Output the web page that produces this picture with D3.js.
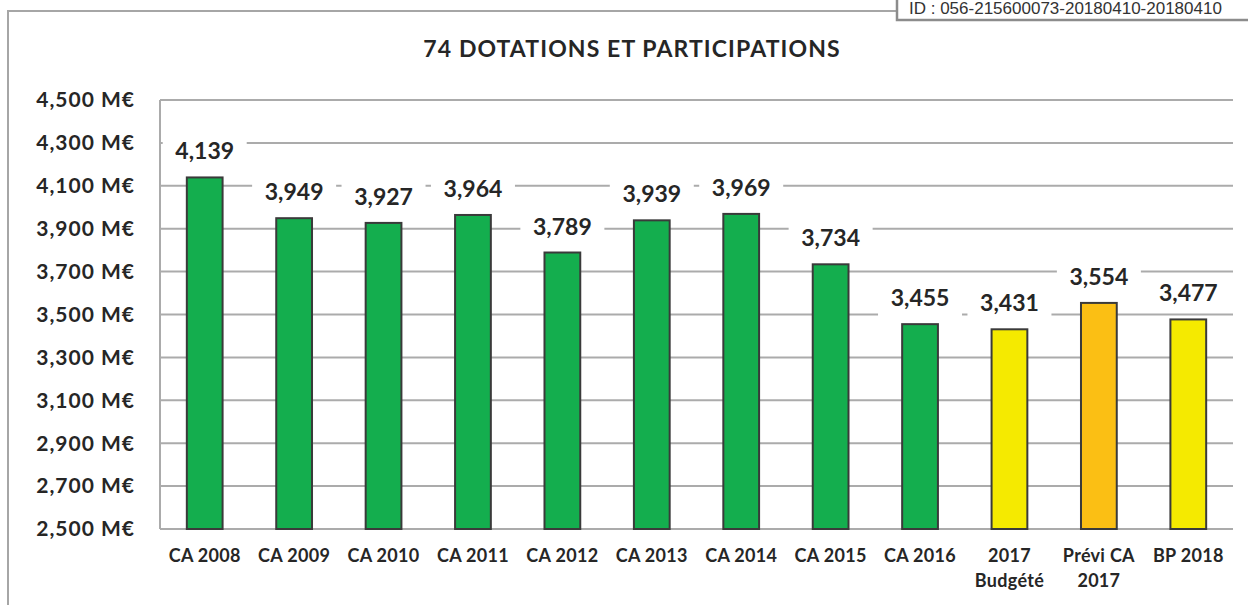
<!DOCTYPE html>
<html>
<head>
<meta charset="utf-8">
<script src="https://cdn.jsdelivr.net/npm/d3@7"></script>
<style>
  body { margin: 0; background: #fff; }
  svg { display: block; }
  text { font-family: Lato, "Open Sans", sans-serif; font-weight: bold; fill: #262626; }
</style>
</head>
<body>
<div class="chart"></div>
<script>
const width = 1248;
const height = 605;

// data
const categories = ["CA 2008", "CA 2009", "CA 2010", "CA 2011", "CA 2012", "CA 2013", "CA 2014", "CA 2015", "CA 2016", "2017\nBudgété", "Prévi CA\n2017", "BP 2018"];
const values = [4139, 3949, 3927, 3964, 3789, 3939, 3969, 3734, 3455, 3431, 3554, 3477];
const kinds = ["ca", "ca", "ca", "ca", "ca", "ca", "ca", "ca", "ca", "budget", "previ", "budget"];
const yTicks = [2500, 2700, 2900, 3100, 3300, 3500, 3700, 3900, 4100, 4300, 4500];
const title = "74 DOTATIONS ET PARTICIPATIONS";
const stamp = "ID : 056-215600073-20180410-20180410";

const colors = { ca: "#14ae4e", budget: "#f5ea00", previ: "#fbbf14" };

const margin = { top: 100, right: 15, bottom: 76, left: 160 };

let svg = d3.select(".chart")
    .append("svg")
    .attr("width", width)
    .attr("height", height);

// outer frame of the chart
svg.append("path")
    .attr("d", "M8,605 L8,11 L900,11")
    .attr("fill", "none")
    .attr("stroke", "#a6a6a6")
    .attr("stroke-width", 2);

// stamp box, top right
svg.append("rect")
    .attr("x", 897).attr("y", -10)
    .attr("width", 400).attr("height", 30)
    .attr("fill", "#fff")
    .attr("stroke", "#8c8c8c")
    .attr("stroke-width", 2.5);
svg.append("text")
    .attr("x", 909).attr("y", 14)
    .style("font-family", "'Liberation Sans', Arial, sans-serif")
    .style("font-weight", "normal")
    .style("font-size", "17px")
    .style("fill", "#333")
    .text(stamp);

svg.append("text")
    .attr("x", 632).attr("y", 57)
    .attr("text-anchor", "middle")
    .style("font-size", "23px")
    .style("letter-spacing", "1.1px")
    .text(title);

let x = d3.scaleBand()
    .domain(categories)
    .range([margin.left, width - margin.right])
    .paddingInner(0.6)
    .paddingOuter(0.3);

let y = d3.scaleLinear()
    .domain([2500, 4500])
    .range([height - margin.bottom, margin.top]);

// gridlines
svg.append("g")
    .selectAll("line")
    .data(yTicks)
    .enter()
    .append("line")
    .attr("x1", margin.left)
    .attr("x2", width - margin.right)
    .attr("y1", d => y(d))
    .attr("y2", d => y(d))
    .attr("stroke", "#ababab")
    .attr("stroke-width", 2);

svg.append("line")
    .attr("x1", margin.left).attr("x2", margin.left)
    .attr("y1", y(4500)).attr("y2", y(2500))
    .attr("stroke", "#ababab")
    .attr("stroke-width", 2);

// y labels
svg.append("g")
    .selectAll("text")
    .data(yTicks)
    .enter()
    .append("text")
    .attr("x", 135)
    .attr("y", d => y(d))
    .attr("dy", "0.35em")
    .attr("text-anchor", "end")
    .style("font-size", "21px")
    .style("letter-spacing", "1px")
    .text(d => d3.format(",")(d) + " M€");

let rows = categories.map((c, i) => ({ cat: c, value: values[i], kind: kinds[i] }));

svg.append("g")
    .selectAll("rect")
    .data(rows)
    .enter()
    .append("rect")
    .attr("x", d => x(d.cat))
    .attr("y", d => y(d.value))
    .attr("width", x.bandwidth())
    .attr("height", d => y(2500) - y(d.value))
    .attr("fill", d => colors[d.kind])
    .attr("stroke", "#3a3a3a")
    .attr("stroke-width", 2);

// value labels on white boxes, covering the gridlines
let labels = svg.append("g")
    .selectAll("g")
    .data(rows)
    .enter()
    .append("g")
    .attr("transform", d => `translate(${x(d.cat) + x.bandwidth() / 2},${y(d.value) - 18})`);

labels.append("rect")
    .attr("x", -42).attr("y", -26)
    .attr("width", 84).attr("height", 36)
    .attr("fill", "#fff");

labels.append("text")
    .attr("text-anchor", "middle")
    .style("font-size", "23px")
    .text(d => d3.format(",")(d.value));

// category labels
svg.append("g")
    .selectAll("text")
    .data(categories)
    .enter()
    .append("text")
    .attr("x", d => x(d) + x.bandwidth() / 2)
    .attr("y", 562)
    .attr("text-anchor", "middle")
    .style("font-size", "18px")
    .style("letter-spacing", "0.3px")
    .selectAll("tspan")
    .data(d => d.split("\n"))
    .enter()
    .append("tspan")
    .attr("x", function() { return d3.select(this.parentNode).attr("x"); })
    .attr("dy", (d, i) => i ? 25 : 0)
    .text(d => d);
</script>
</body>
</html>
